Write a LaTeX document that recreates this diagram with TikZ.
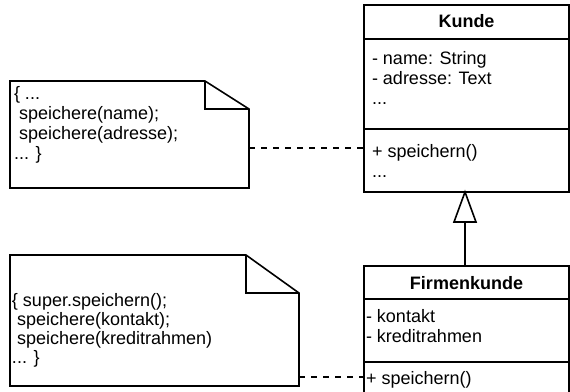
\documentclass[tikz,border=0pt]{standalone}
\usepackage{fontspec}
\setmainfont{Liberation Sans}
\begin{document}
\begin{tikzpicture}[x=1pt,y=-1pt,
  every node/.style={inner sep=0pt,outer sep=0pt},
  txt/.style={anchor=base west,font=\fontsize{18}{20}\selectfont},
  ttl/.style={anchor=base,font=\fontsize{18}{20}\selectfont\bfseries},
  shape line/.style={line width=1.6pt,line join=miter},
  dep/.style={line width=1.4pt,dash pattern=on 6pt off 6pt}]
\useasboundingbox (0,0) rectangle (570,391);
% Kunde class
\draw[shape line] (364,5) rectangle (569,192);
\draw[shape line] (364,39) -- (569,39);
\draw[shape line] (364,129) -- (569,129);
\node[ttl] (kt) at (466.5,27) {Kunde};
\node[txt] (ka1) at (372,64) {- name: String};
\node[txt] (ka2) at (372,84) {- adresse: Text};
\node[txt] (ka3) at (372,104) {...};
\node[txt] (km1) at (372,157) {+ speichern()};
\node[txt] (km2) at (372,177) {...};
\coordinate (kleft) at (364,148);
\coordinate (kbot) at (465,192);
% Firmenkunde class
\draw[shape line] (364,398) -- (364,266) -- (569,266) -- (569,398);
\draw[shape line] (364,299) -- (569,299);
\draw[shape line] (364,362) -- (569,362);
\node[ttl] (ft) at (466.5,289) {Firmenkunde};
\node[txt] (fa1) at (366,322) {- kontakt};
\node[txt] (fa2) at (366,342) {- kreditrahmen};
\node[txt] (fm1) at (366,384) {+ speichern()};
\coordinate (fleft) at (364,377);
\coordinate (ftop) at (465,266);
% generalization
\coordinate (tbase) at (465,222);
\draw[shape line] (ftop) -- (tbase);
\draw[shape line,fill=white] (kbot) -- (476,222) -- (454,222) -- cycle;
% Note 1
\draw[shape line] (10,81) -- (205,81) -- (249,109) -- (249,188) -- (10,188) -- cycle;
\draw[shape line] (205,81) -- (205,109) -- (249,109);
\node[txt] (n1a) at (14,99) {\{ ...};
\node[txt] (n1b) at (14,119) {\ speichere(name);};
\node[txt] (n1c) at (14,139) {\ speichere(adresse);};
\node[txt] (n1d) at (14,159) {... \}};
\coordinate (n1r) at (249,148);
% Note 2
\draw[shape line] (10,255) -- (246,255) -- (299,293) -- (299,386) -- (10,386) -- cycle;
\draw[shape line] (246,255) -- (246,293) -- (299,293);
\node[txt] (n2a) at (12,306) {\{ super.speichern();};
\node[txt] (n2b) at (12,325) {\ speichere(kontakt);};
\node[txt] (n2c) at (12,344) {\ speichere(kreditrahmen)};
\node[txt] (n2d) at (12,363) {... \}};
\coordinate (n2r) at (299,377);
% dependencies
\draw[dep] (n1r) -- (kleft);
\draw[dep] (n2r) -- (fleft);
\end{tikzpicture}
\end{document}
